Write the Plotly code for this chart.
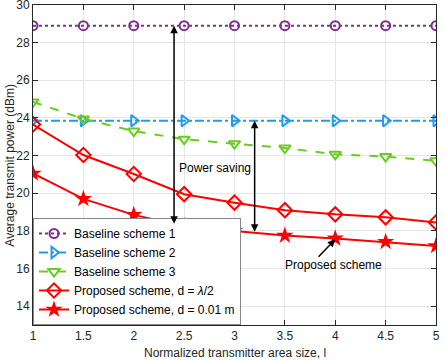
import plotly.graph_objects as go

# normalized transmitter area size
area = [1, 1.5, 2, 2.5, 3, 3.5, 4, 4.5, 5]

baseline1 = [28.9, 28.9, 28.9, 28.9, 28.9, 28.9, 28.9, 28.9, 28.9]
baseline2 = [23.85, 23.85, 23.85, 23.85, 23.85, 23.85, 23.85, 23.85, 23.85]
baseline3 = [24.85, 23.95, 23.3, 22.87, 22.63, 22.4, 22.07, 21.95, 21.72]
proposed_half = [23.65, 22.03, 21.02, 19.95, 19.5, 19.1, 18.88, 18.72, 18.45]
proposed_001 = [21.05, 19.7, 18.85, 18.25, 18.0, 17.75, 17.6, 17.42, 17.2]

x_ticks = [1, 1.5, 2, 2.5, 3, 3.5, 4, 4.5, 5]
y_ticks = [14, 16, 18, 20, 22, 24, 26, 28, 30]

FONT = "Liberation Sans, Arial, sans-serif"
TXT = "#262626"

fig = go.Figure()

fig.add_trace(go.Scatter(
    x=area, y=baseline1, name="Baseline scheme 1", mode="lines+markers",
    line=dict(color="#7E2F8E", width=2, dash="dot"),
    marker=dict(symbol="circle-open", size=9, color="#7E2F8E", line=dict(width=2)),
))
fig.add_trace(go.Scatter(
    x=area, y=baseline2, name="Baseline scheme 2", mode="lines+markers",
    line=dict(color="#1E9BF0", width=2, dash="dashdot"),
    marker=dict(symbol="triangle-right-open", size=10, color="#1E9BF0", line=dict(width=2)),
))
fig.add_trace(go.Scatter(
    x=area, y=baseline3, name="Baseline scheme 3", mode="lines+markers",
    line=dict(color="#6ACC22", width=2, dash="dash"),
    marker=dict(symbol="triangle-down-open", size=10, color="#6ACC22", line=dict(width=2)),
))
fig.add_trace(go.Scatter(
    x=area, y=proposed_half, name="Proposed scheme, d = <i>λ</i>/2", mode="lines+markers",
    line=dict(color="#FF0000", width=2),
    marker=dict(symbol="diamond-open", size=11, color="#FF0000", line=dict(width=2)),
))
fig.add_trace(go.Scatter(
    x=area, y=proposed_001, name="Proposed scheme, d = 0.01 m", mode="lines+markers",
    line=dict(color="#FF0000", width=2),
    marker=dict(symbol="star", size=13, color="#FF0000", line=dict(width=0)),
))

# double-headed arrows showing the power saving
for xa, ytop, ybot in [(2.4, 28.9, 18.3), (3.2, 23.85, 17.88)]:
    fig.add_annotation(
        x=xa, y=ytop, ax=xa, ay=ybot, xref="x", yref="y", axref="x", ayref="y",
        text="", showarrow=True, arrowhead=2, arrowside="end+start",
        arrowsize=1, arrowwidth=1.5, arrowcolor="black",
    )

fig.add_annotation(x=2.81, y=21.35, text="Power saving", showarrow=False,
                   font=dict(family=FONT, size=12, color="black"))
fig.add_annotation(x=4.0, y=17.55, ax=3.82, ay=16.55, xref="x", yref="y",
                   axref="x", ayref="y", text="", showarrow=True, arrowhead=2,
                   arrowsize=1, arrowwidth=1.5, arrowcolor="black")
fig.add_annotation(x=3.98, y=16.2, text="Proposed scheme", showarrow=False,
                   font=dict(family=FONT, size=12, color="black"))

# axis titles placed by hand so the plot area stays fixed
fig.add_annotation(x=0.5, y=-0.088, xref="paper", yref="paper", yanchor="middle",
                   text="Normalized transmitter area size, l", showarrow=False,
                   font=dict(family=FONT, size=12, color=TXT))
fig.add_annotation(x=-0.058, y=0.5, xref="paper", yref="paper", xanchor="center",
                   text="Average transmit power (dBm)", showarrow=False, textangle=-90,
                   font=dict(family=FONT, size=12, color=TXT))

axis_common = dict(
    showline=True, mirror="ticks", linecolor=TXT, linewidth=1,
    ticks="inside", ticklen=5, tickcolor=TXT,
    showgrid=True, gridcolor="#E6E6E6", gridwidth=1, zeroline=False,
    tickfont=dict(family=FONT, size=12, color=TXT),
    automargin=False, ticklabeloverflow="allow",
)

fig.update_layout(
    width=446, height=360,
    margin=dict(l=33, r=10, t=5, b=35),
    plot_bgcolor="white", paper_bgcolor="white",
    font=dict(family=FONT, size=12, color=TXT),
    xaxis=dict(range=[1, 5], tickvals=x_ticks, **axis_common),
    yaxis=dict(range=[13, 30], tickvals=y_ticks, **axis_common),
    legend=dict(x=0, y=0, xanchor="left", yanchor="bottom",
                bgcolor="white", bordercolor="#888888", borderwidth=1,
                font=dict(family=FONT, size=12, color="black"),
                tracegroupgap=0, itemwidth=30),
    showlegend=True,
)

# drop the browser's default body margin so the figure sits at the page corner
fig.write_html("out.html", config={"displayModeBar": False},
               post_script="document.body.style.margin='0';")
